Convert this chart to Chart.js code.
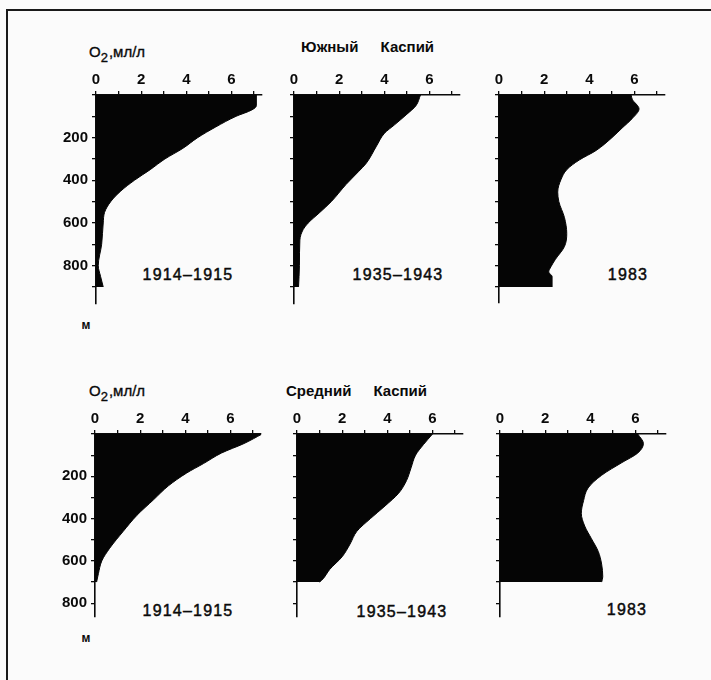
<!DOCTYPE html>
<html>
<head>
<meta charset="utf-8">
<script src="https://cdn.jsdelivr.net/npm/chart.js@4.4.1/dist/chart.umd.min.js"></script>
<style>
  html, body { margin: 0; padding: 0; background: #fbfbfb; }
  body { width: 711px; height: 680px; position: relative; overflow: hidden;
         font-family: "Liberation Sans", Arial, sans-serif; color: #0a0a0a; }
  .frame-top { position: absolute; left: 6px; top: 9px; width: 705px; height: 2px; background: #1a1a1a; }
  .frame-left { position: absolute; left: 6px; top: 9px; width: 2px; height: 671px; background: #1a1a1a; }
  canvas { position: absolute; }
  .lbl { position: absolute; white-space: nowrap; line-height: 1; transform: translate(-50%, -50%); }
  .unit { font-size: 15px; transform: translate(0, -50%); -webkit-text-stroke: 0.35px #0a0a0a; }
  .unit sub { font-size: 13px; vertical-align: -5px; margin-right: 1px; }
  .region { font-size: 15px; font-weight: bold; transform: translate(0, -50%); word-spacing: 18px; }
  .year { font-size: 16px; letter-spacing: 1.2px; -webkit-text-stroke: 0.45px #0a0a0a; }
  .m { font-size: 12px; font-weight: bold; }
</style>
</head>
<body>
<div class="frame-top"></div>
<div class="frame-left"></div>

<div class="lbl unit" style="left:89px; top:54px;">O<sub>2</sub>,мл/л</div>
<div class="lbl region" style="left:301px; top:46px;">Южный Каспий</div>
<div class="lbl year" style="left:188px; top:275px;">1914–1915</div>
<div class="lbl year" style="left:398px; top:275px;">1935–1943</div>
<div class="lbl year" style="left:628px; top:275px;">1983</div>
<div class="lbl m" style="left:86px; top:325px;">м</div>

<div class="lbl unit" style="left:89px; top:393px;">O<sub>2</sub>,мл/л</div>
<div class="lbl region" style="left:286px; top:390px;">Средний Каспий</div>
<div class="lbl year" style="left:188px; top:611px;">1914–1915</div>
<div class="lbl year" style="left:402px; top:612px;">1935–1943</div>
<div class="lbl year" style="left:627px; top:610px;">1983</div>
<div class="lbl m" style="left:86px; top:638px;">м</div>

<script>
// Южный Каспий, O2 (мл/л) по глубине (м)
const southDepth1914 = [0, 50, 70, 100, 150, 200, 250, 300, 350, 400, 450, 500, 550, 600, 700, 800, 850, 900];
const southO2_1914  = [7.1, 7.1, 6.9, 6.2, 5.3, 4.5, 3.85, 3.05, 2.4, 1.7, 1.1, 0.65, 0.38, 0.32, 0.25, 0.1, 0.2, 0.32];

const southDepth1935 = [0, 50, 90, 140, 180, 240, 320, 360, 420, 500, 550, 600, 630, 680, 800, 900];
const southO2_1935  = [5.6, 5.4, 5.0, 4.45, 4.0, 3.65, 3.2, 2.85, 2.3, 1.65, 1.15, 0.63, 0.41, 0.26, 0.24, 0.2];

const southDepth1983 = [0, 20, 65, 110, 155, 200, 260, 305, 350, 395, 455, 500, 575, 650, 710, 770, 805, 830, 850, 900];
const southO2_1983  = [5.85, 5.9, 6.2, 5.9, 5.45, 5.0, 4.3, 3.55, 3.0, 2.75, 2.6, 2.65, 2.9, 3.0, 2.9, 2.5, 2.3, 2.2, 2.35, 2.35];

// Средний Каспий
const midDepth1914 = [0, 45, 90, 140, 185, 245, 310, 385, 460, 540, 600, 660, 700];
const midO2_1914  = [7.4, 6.6, 5.6, 4.8, 4.05, 3.25, 2.6, 1.85, 1.25, 0.65, 0.3, 0.15, 0.07];

const midDepth1935 = [0, 50, 100, 160, 220, 280, 340, 400, 460, 520, 580, 640, 685, 700];
const midO2_1935  = [6.0, 5.6, 5.25, 5.05, 4.85, 4.5, 3.9, 3.25, 2.65, 2.35, 2.0, 1.45, 1.15, 1.0];

const midDepth1983 = [0, 45, 90, 135, 195, 255, 315, 375, 435, 495, 555, 615, 675, 700];
const midO2_1983  = [6.1, 6.35, 6.1, 5.4, 4.5, 3.9, 3.7, 3.6, 3.75, 4.05, 4.35, 4.5, 4.55, 4.5];

// tick labels
const o2TickLabels = [0, 2, 4, 6];
const depthTickLabels = [200, 400, 600, 800];

// layout of the six panels (pixel origin of each axis corner)
const X_MAX = 7.35;
const UX = 22.6;      // px per ml/l
const UY = 0.2225;    // px per metre
const AXIS_W = 60, AXIS_H = 40, PAD_R = 6, PAD_B = 4;

const panels = [
  { depth: southDepth1914, o2: southO2_1914, ox: 96,  oy: 95,  yMax: 980, depthLabels: true },
  { depth: southDepth1935, o2: southO2_1935, ox: 294, oy: 95,  yMax: 980, depthLabels: false },
  { depth: southDepth1983, o2: southO2_1983, ox: 499, oy: 95,  yMax: 975, depthLabels: false },
  { depth: midDepth1914,   o2: midO2_1914,   ox: 95,  oy: 434, yMax: 865, depthLabels: true },
  { depth: midDepth1935,   o2: midO2_1935,   ox: 297, oy: 434, yMax: 865, depthLabels: false },
  { depth: midDepth1983,   o2: midO2_1983,   ox: 500, oy: 434, yMax: 865, depthLabels: false }
];

const tickFont = { family: '"Liberation Sans", Arial, sans-serif', size: 15, weight: 'bold' };
const ink = '#0a0a0a';

function makePanel(p) {
  const cv = document.createElement('canvas');
  const w = Math.round(AXIS_W + X_MAX * UX + PAD_R);
  const h = Math.round(AXIS_H + p.yMax * UY + PAD_B);
  cv.width = w;
  cv.height = h;
  cv.style.width = w + 'px';
  cv.style.height = h + 'px';
  cv.style.left = (p.ox - AXIS_W) + 'px';
  cv.style.top = (p.oy - AXIS_H) + 'px';
  document.body.appendChild(cv);

  new Chart(cv, {
    type: 'line',
    data: {
      datasets: [{
        data: p.depth.map((d, i) => ({ x: p.o2[i], y: d })),
        fill: 'origin',
        backgroundColor: '#050505',
        borderColor: '#050505',
        borderWidth: 1,
        pointRadius: 0,
        cubicInterpolationMode: 'monotone'
      }]
    },
    options: {
      indexAxis: 'y',
      responsive: false,
      animation: false,
      devicePixelRatio: 1,
      layout: { padding: { left: 0, top: 0, right: PAD_R, bottom: PAD_B } },
      plugins: { legend: { display: false }, tooltip: { enabled: false } },
      scales: {
        x: {
          type: 'linear', position: 'top', min: 0, max: X_MAX,
          afterFit: s => { s.height = AXIS_H; },
          ticks: {
            stepSize: 1, includeBounds: false, autoSkip: false, maxRotation: 0,
            padding: 2, font: tickFont, color: ink,
            callback: v => o2TickLabels.includes(v) ? String(v) : ''
          },
          grid: { drawOnChartArea: false, drawTicks: true, tickLength: 4, color: ink, lineWidth: 1.3 },
          border: { display: true, color: ink, width: 1.6 }
        },
        y: {
          type: 'linear', position: 'left', reverse: true, min: 0, max: p.yMax,
          afterFit: s => { s.width = AXIS_W; },
          ticks: {
            stepSize: 100, includeBounds: false, autoSkip: false,
            padding: 4, font: tickFont, color: ink,
            callback: v => (p.depthLabels && depthTickLabels.includes(v)) ? String(v) : ''
          },
          grid: { drawOnChartArea: false, drawTicks: true, tickLength: 4, color: ink, lineWidth: 1.3 },
          border: { display: true, color: ink, width: 1.6 }
        }
      }
    }
  });
}

panels.forEach(makePanel);
</script>
</body>
</html>
